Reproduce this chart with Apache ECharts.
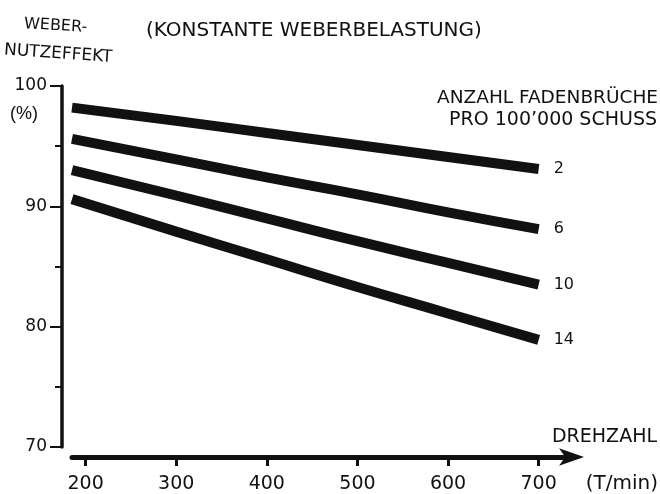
<!DOCTYPE html>
<html>
<head>
<meta charset="utf-8">
<script src="https://cdn.jsdelivr.net/npm/echarts@6/dist/echarts.min.js"></script>
<style>
  html, body { margin: 0; padding: 0; background: #fff; }
  #chart { width: 660px; height: 494px; }
</style>
</head>
<body>
<div id="chart"></div>
<script>
// Drehzahl (T/min) at which each curve was read
const speed = [185, 300, 400, 500, 600, 700]
// Webernutzeffekt (%) per Fadenbrüche / 100'000 Schuss
const breaks2 = [98.2, 97.1, 96.1, 95.1, 94.1, 93.1]
const breaks6 = [95.6, 93.9, 92.4, 91.0, 89.5, 88.1]
const breaks10 = [93.0, 90.9, 89.0, 87.1, 85.3, 83.5]
const breaks14 = [90.6, 87.9, 85.6, 83.3, 81.1, 78.9]
const seriesNames = ['2', '6', '10', '14']
const xTicks = [200, 300, 400, 500, 600, 700]

const FONT = '"DejaVu Sans", "Liberation Sans", sans-serif'
const FONT_NARROW = '"Liberation Sans", Arial, sans-serif'
const INK = '#111'

function pairs(ys) {
  return speed.map((x, i) => [x, ys[i]])
}

function curve(name, ys) {
  return {
    name: name,
    type: 'line',
    smooth: true,
    symbol: 'none',
    silent: true,
    data: pairs(ys),
    lineStyle: { color: INK, width: 10, cap: 'butt' },
    endLabel: {
      show: true,
      formatter: '{a}',
      color: INK,
      fontFamily: FONT,
      fontSize: 16,
      distance: 15
    }
  }
}

function txt(text, x, y, align, size, family, rot) {
  return {
    type: 'text',
    x: x,
    y: y,
    rotation: rot || 0,
    style: {
      text: text,
      fill: INK,
      font: size + 'px ' + family,
      textAlign: align,
      textVerticalAlign: 'middle'
    }
  }
}

const chart = echarts.init(document.getElementById('chart'), null, { renderer: 'canvas' })

chart.setOption({
  backgroundColor: '#fff',
  animation: false,
  grid: { left: 72, right: 86, top: 86, bottom: 44 },
  xAxis: {
    type: 'value',
    min: 185,
    max: 739,
    offset: 10,
    splitLine: { show: false },
    axisLine: {
      lineStyle: { color: INK, width: 5 },
      symbol: ['none', 'arrow'],
      symbolSize: [13, 25],
      symbolOffset: [0, 10]
    },
    axisTick: { customValues: xTicks, length: 9, lineStyle: { color: INK, width: 3 } },
    axisLabel: { customValues: xTicks, color: INK, fontFamily: FONT, fontSize: 19, margin: 18 }
  },
  yAxis: {
    type: 'value',
    min: 70,
    max: 100,
    interval: 10,
    offset: 10,
    splitLine: { show: false },
    axisLine: { lineStyle: { color: INK, width: 3.5 } },
    axisTick: { length: 12, lineStyle: { color: INK, width: 2 } },
    minorTick: { show: true, splitNumber: 2, length: 7, lineStyle: { color: INK, width: 2 } },
    axisLabel: { color: INK, fontFamily: FONT, fontSize: 17, margin: 15 }
  },
  series: [
    curve(seriesNames[0], breaks2),
    curve(seriesNames[1], breaks6),
    curve(seriesNames[2], breaks10),
    curve(seriesNames[3], breaks14)
  ],
  graphic: [
    txt('WEBER-', 24, 24, 'left', 16, FONT, -0.06),
    txt('NUTZEFFEKT', 4, 50, 'left', 17, FONT, -0.07),
    txt('(KONSTANTE WEBERBELASTUNG)', 146, 31, 'left', 20, FONT),
    txt('(%)', 10, 114, 'left', 18, FONT_NARROW),
    txt('ANZAHL FADENBRÜCHE', 658, 98, 'right', 18.5, FONT),
    txt('PRO 100’000 SCHUSS', 657, 120, 'right', 19, FONT),
    txt('DREHZAHL', 657, 437, 'right', 19, FONT),
    txt('(T/min)', 658, 484, 'right', 20, FONT)
  ]
})
</script>
</body>
</html>
